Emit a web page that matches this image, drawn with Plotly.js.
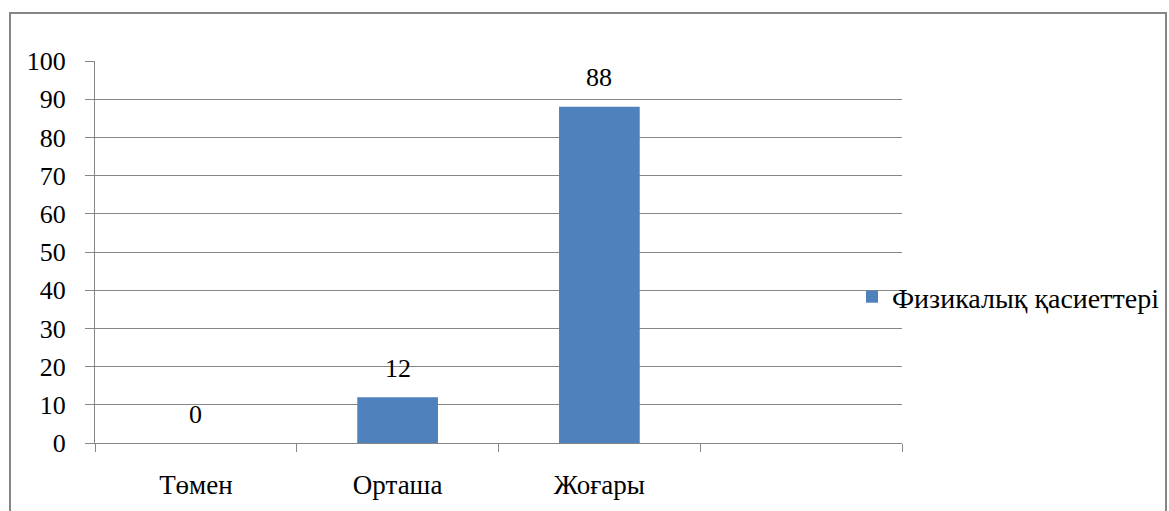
<!DOCTYPE html>
<html>
<head>
<meta charset="utf-8">
<script src="https://cdn.plot.ly/plotly-3.0.1.min.js"></script>
<style>
html,body{margin:0;padding:0;background:#fff;font-family:'Liberation Serif',serif;}
#chart{width:1169px;height:511px;}
#chart text{font-family:'Liberation Serif',serif !important;}
</style>
</head>
<body>
<div id="chart"></div>
<script>
var categories = ['Төмен', 'Орташа', 'Жоғары', ' '];
var values = [0, 12, 88, null];
var seriesName = 'Физикалық қасиеттері';
var yTicks = [0, 10, 20, 30, 40, 50, 60, 70, 80, 90, 100];

(function () {
  var serifFont = 'Liberation Serif';
  var trace = {
    type: 'bar',
    x: categories,
    y: values,
    name: seriesName,
    marker: {color: '#4F81BD'},
    hoverinfo: 'skip',
    showlegend: true
  };

  var annotations = [];
  for (var i = 0; i < categories.length; i++) {
    if (values[i] === null) continue;
    annotations.push({
      x: categories[i], y: values[i], xref: 'x', yref: 'y',
      text: String(values[i]), showarrow: false,
      yanchor: 'middle', yshift: 29,
      font: {family: serifFont, size: 26, color: '#000'}
    });
  }

  var pl = 95, pr = 902, pt = 61, pb = 443, pw = 1169, ph = 511;
  function px(x){ return (x - pl) / (pr - pl); }
  function py(y){ return (pb - y) / (pb - pt); }

  var layout = {
    width: pw, height: ph,
    margin: {l: pl, r: pw - pr, t: pt, b: ph - pb, pad: 0, autoexpand: false},
    paper_bgcolor: '#fff', plot_bgcolor: '#fff',
    font: {family: serifFont, size: 26, color: '#000'},
    bargap: 0.6,
    showlegend: true,
    legend: {
      x: px(852), xanchor: 'left', y: py(297), yanchor: 'middle',
      bgcolor: 'rgba(0,0,0,0)', borderwidth: 0,
      font: {family: serifFont, size: 28, color: '#000'}
    },
    xaxis: {
      type: 'category',
      categoryorder: 'array', categoryarray: categories,
      range: [-0.5, 3.5],
      automargin: false,
      showgrid: false, zeroline: false,
      showline: true, linecolor: '#868686', linewidth: 1,
      ticks: 'outside', ticklen: 8, tickcolor: '#868686', tickwidth: 1,
      tickson: 'boundaries',
      ticklabelstandoff: 18,
      tickfont: {family: serifFont, size: 27, color: '#000'},
      fixedrange: true
    },
    yaxis: {
      range: [0, 100],
      automargin: false,
      tickvals: yTicks,
      ticktext: yTicks.map(String),
      showgrid: true, gridcolor: '#868686', gridwidth: 1,
      zeroline: false,
      showline: true, linecolor: '#868686', linewidth: 1,
      ticks: 'outside', ticklen: 9, tickcolor: '#868686', tickwidth: 1,
      ticklabelstandoff: 14,
      tickfont: {family: serifFont, size: 26, color: '#000'},
      fixedrange: true
    },
    annotations: annotations,
    shapes: [{
      type: 'rect', xref: 'paper', yref: 'paper',
      x0: px(10), x1: px(1166), y0: py(540), y1: py(13),
      line: {color: '#868686', width: 2}, fillcolor: 'rgba(0,0,0,0)',
      layer: 'above'
    }]
  };

  Plotly.newPlot('chart', [trace], layout, {displayModeBar: false, staticPlot: true});
})();
</script>
</body>
</html>
